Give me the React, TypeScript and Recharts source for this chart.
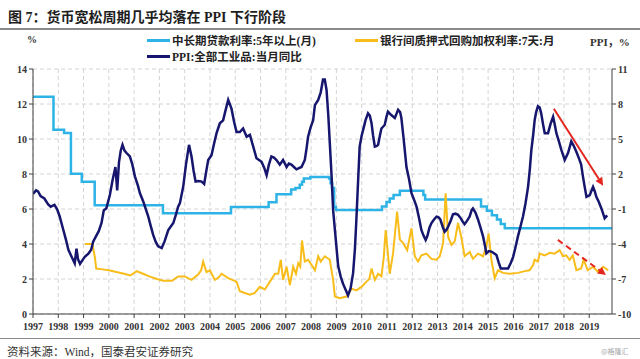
import React from 'react';
import { LineChart, Line, XAxis, YAxis, CartesianGrid, ReferenceLine } from 'recharts';

// [year, value] pairs
const ppiSeries: [number, number][] = [
  [1997.0, 0.3], [1997.12, 0.6], [1997.2, 0.5], [1997.3, 0.1], [1997.45, -0.1], [1997.6, -0.6], [1997.7, -0.8],
  [1997.85, -0.65], [1997.95, -1.0], [1998.05, -1.6], [1998.2, -2.8], [1998.3, -3.6], [1998.4, -4.5], [1998.55, -5.2],
  [1998.65, -5.65], [1998.72, -4.4], [1998.78, -5.3], [1998.86, -5.7], [1998.95, -5.4], [1999.05, -5.1], [1999.2, -4.8],
  [1999.3, -4.5], [1999.38, -3.8], [1999.5, -3.3], [1999.6, -2.9], [1999.71, -2.2], [1999.8, -1.1], [1999.9, -0.95],
  [2000.04, 0.2], [2000.15, 1.5], [2000.26, 2.6], [2000.33, 0.6], [2000.4, 3.0], [2000.47, 4.0], [2000.54, 4.5],
  [2000.62, 4.0], [2000.7, 3.8], [2000.83, 3.5], [2000.93, 2.8], [2001.03, 1.8], [2001.15, 1.0], [2001.23, 0.35],
  [2001.36, -0.35], [2001.46, -1.0], [2001.56, -1.65], [2001.65, -2.4], [2001.75, -3.2], [2001.85, -3.8], [2001.95, -4.2],
  [2002.09, -4.35], [2002.2, -3.8], [2002.35, -2.8], [2002.45, -2.5], [2002.55, -2.2], [2002.65, -1.5], [2002.74, -0.8],
  [2002.81, -0.5], [2002.94, 0.9], [2003.05, 2.8], [2003.17, 4.5], [2003.27, 3.5], [2003.35, 2.3], [2003.43, 1.35],
  [2003.55, 1.4], [2003.67, 1.35], [2003.77, 1.15], [2003.85, 2.2], [2003.93, 3.2], [2004.06, 3.6], [2004.16, 4.6],
  [2004.26, 5.5], [2004.39, 6.35], [2004.52, 6.6], [2004.62, 7.5], [2004.72, 8.35], [2004.85, 7.6], [2004.95, 6.5],
  [2005.05, 5.6], [2005.18, 5.6], [2005.31, 5.9], [2005.45, 5.2], [2005.58, 5.35], [2005.71, 4.35], [2005.84, 3.35],
  [2005.94, 3.2], [2006.04, 3.05], [2006.15, 2.5], [2006.24, 1.9], [2006.33, 2.8], [2006.43, 3.5], [2006.53, 3.4],
  [2006.63, 3.2], [2006.76, 2.8], [2006.89, 3.2], [2007.03, 2.6], [2007.12, 2.9], [2007.22, 2.8], [2007.32, 2.6],
  [2007.42, 2.4], [2007.52, 2.5], [2007.62, 2.6], [2007.75, 3.2], [2007.82, 4.2], [2007.88, 5.2], [2007.98, 6.0],
  [2008.08, 6.6], [2008.15, 7.9], [2008.28, 8.35], [2008.38, 9.0], [2008.47, 10.1], [2008.54, 10.1], [2008.61, 9.2],
  [2008.68, 7.0], [2008.74, 4.6], [2008.81, 1.8], [2008.87, -1.1], [2008.97, -3.5], [2009.07, -5.9], [2009.17, -6.8],
  [2009.26, -7.4], [2009.36, -7.9], [2009.46, -8.4], [2009.56, -7.8], [2009.66, -6.5], [2009.73, -4.5], [2009.79, -1.9],
  [2009.86, 1.5], [2009.92, 4.35], [2010.0, 5.3], [2010.06, 5.8], [2010.15, 6.6], [2010.25, 7.2], [2010.32, 7.0],
  [2010.39, 6.35], [2010.45, 5.3], [2010.52, 4.35], [2010.6, 4.4], [2010.65, 4.5], [2010.72, 5.3], [2010.78, 5.9],
  [2010.91, 6.2], [2010.98, 6.9], [2011.04, 7.35], [2011.17, 7.05], [2011.31, 6.8], [2011.44, 7.5], [2011.52, 7.3],
  [2011.57, 6.8], [2011.65, 5.2], [2011.72, 3.7], [2011.77, 2.6], [2011.87, 1.6], [2011.97, 0.35], [2012.07, -0.2],
  [2012.17, -0.8], [2012.27, -1.8], [2012.36, -2.8], [2012.45, -3.3], [2012.53, -3.65], [2012.6, -3.3], [2012.68, -2.6],
  [2012.76, -2.2], [2012.86, -1.9], [2012.96, -1.65], [2013.03, -1.7], [2013.11, -1.9], [2013.2, -2.5], [2013.28, -2.95],
  [2013.35, -2.8], [2013.42, -2.5], [2013.52, -2.0], [2013.61, -1.45], [2013.71, -1.4], [2013.81, -1.5], [2013.92, -1.8],
  [2014.0, -2.1], [2014.07, -2.3], [2014.17, -2.0], [2014.27, -1.65], [2014.35, -1.1], [2014.4, -0.95], [2014.5, -1.3],
  [2014.6, -1.9], [2014.7, -2.6], [2014.8, -3.35], [2014.88, -4.2], [2014.93, -4.8], [2015.03, -4.6], [2015.13, -4.65],
  [2015.23, -4.8], [2015.33, -4.95], [2015.42, -5.6], [2015.5, -6.1], [2015.65, -6.1], [2015.79, -6.1], [2015.9, -5.6],
  [2015.99, -5.1], [2016.08, -4.3], [2016.18, -3.35], [2016.28, -2.5], [2016.38, -1.65], [2016.48, -0.5], [2016.58, 0.9],
  [2016.65, 2.4], [2016.71, 4.05], [2016.78, 5.3], [2016.84, 6.6], [2016.9, 7.3], [2016.97, 7.8], [2017.04, 7.7],
  [2017.1, 7.2], [2017.17, 6.3], [2017.24, 5.5], [2017.37, 5.5], [2017.47, 6.3], [2017.57, 6.9], [2017.63, 6.3],
  [2017.7, 5.5], [2017.8, 4.8], [2017.9, 4.05], [2018.03, 3.2], [2018.16, 3.8], [2018.29, 4.8], [2018.39, 4.4],
  [2018.49, 3.9], [2018.6, 3.3], [2018.68, 2.8], [2018.75, 1.8], [2018.82, 0.9], [2018.89, 0.05], [2019.02, 0.2],
  [2019.15, 0.9], [2019.22, 0.5], [2019.28, 0.05], [2019.38, -0.4], [2019.48, -0.95], [2019.55, -1.4], [2019.61, -1.8],
  [2019.71, -1.55],
];

// 中长期贷款利率:5年以上 — step changes
const loanSeries: [number, number][] = [
  [1997.0, 12.42], [1997.81, 10.53], [1998.23, 10.35], [1998.5, 8.01], [1998.93, 7.56], [1999.44, 6.21],
  [2002.14, 5.76], [2004.83, 6.12], [2006.32, 6.39], [2006.63, 6.84], [2007.21, 7.11], [2007.38, 7.2],
  [2007.55, 7.38], [2007.64, 7.56], [2007.71, 7.74], [2007.97, 7.83], [2008.71, 7.74], [2008.77, 7.47],
  [2008.83, 7.2], [2008.91, 6.12], [2008.98, 5.94], [2010.8, 6.14], [2010.98, 6.4], [2011.11, 6.6],
  [2011.26, 6.8], [2011.51, 7.05], [2012.44, 6.8], [2012.51, 6.55], [2014.72, 6.15], [2014.95, 5.9],
  [2015.15, 5.65], [2015.35, 5.4], [2015.5, 5.15], [2015.66, 4.9], [2019.9, 4.9],
];

// 银行间质押式回购加权利率:7天
const repoSeries: [number, number][] = [
  [1999.05, 4.0], [1999.35, 4.0], [1999.45, 3.2], [1999.5, 2.6], [1999.75, 2.55], [2000.0, 2.5], [2000.3, 2.4],
  [2000.6, 2.3], [2000.85, 2.2], [2001.1, 2.45], [2001.35, 2.3], [2001.6, 2.15], [2001.9, 2.0], [2002.15, 1.9],
  [2002.5, 1.9], [2002.74, 2.15], [2003.0, 2.15], [2003.27, 1.95], [2003.53, 2.25], [2003.65, 2.5], [2003.73, 3.0],
  [2003.86, 2.4], [2004.0, 2.5], [2004.19, 1.95], [2004.35, 2.1], [2004.46, 2.3], [2004.72, 2.05], [2005.05, 1.85],
  [2005.18, 1.3], [2005.38, 1.2], [2005.58, 1.1], [2005.77, 1.2], [2005.97, 1.55], [2006.17, 1.4], [2006.37, 1.85],
  [2006.57, 2.3], [2006.7, 2.3], [2006.8, 3.1], [2006.89, 1.95], [2007.03, 2.7], [2007.16, 1.65], [2007.29, 2.7],
  [2007.4, 2.3], [2007.49, 2.9], [2007.57, 2.7], [2007.64, 4.2], [2007.75, 3.0], [2007.88, 3.1], [2008.02, 2.8],
  [2008.15, 2.5], [2008.28, 3.3], [2008.38, 3.0], [2008.54, 3.3], [2008.74, 3.1], [2008.87, 1.95], [2008.94, 1.0],
  [2009.13, 0.9], [2009.4, 1.0], [2009.5, 1.2], [2009.6, 1.45], [2009.79, 1.35], [2009.99, 1.55], [2010.19, 1.85],
  [2010.3, 2.0], [2010.39, 2.6], [2010.52, 1.95], [2010.65, 2.3], [2010.78, 2.15], [2010.87, 3.2], [2010.95, 4.8],
  [2011.11, 2.3], [2011.24, 3.45], [2011.4, 5.85], [2011.51, 4.25], [2011.64, 4.05], [2011.8, 3.65], [2011.97, 4.9],
  [2012.1, 3.3], [2012.23, 3.0], [2012.36, 3.35], [2012.56, 3.45], [2012.76, 3.15], [2012.96, 3.1], [2013.09, 3.3],
  [2013.22, 4.05], [2013.32, 6.9], [2013.42, 4.4], [2013.55, 3.95], [2013.68, 4.15], [2013.81, 5.2], [2013.94, 4.4],
  [2014.07, 3.3], [2014.2, 3.45], [2014.27, 3.55], [2014.4, 3.15], [2014.6, 3.45], [2014.8, 3.3], [2014.93, 3.85],
  [2015.02, 4.6], [2015.13, 3.1], [2015.26, 2.05], [2015.39, 2.5], [2015.59, 2.35], [2015.85, 2.3], [2016.18, 2.35],
  [2016.45, 2.45], [2016.64, 2.5], [2016.78, 2.8], [2016.84, 3.1], [2016.97, 3.0], [2017.04, 3.45], [2017.24, 3.35],
  [2017.44, 3.5], [2017.63, 3.45], [2017.83, 3.65], [2017.96, 3.3], [2018.09, 3.35], [2018.22, 3.1], [2018.35, 3.35],
  [2018.49, 2.5], [2018.68, 2.6], [2018.78, 3.1], [2018.94, 2.5], [2019.15, 2.7], [2019.35, 2.4], [2019.55, 2.7],
  [2019.75, 2.5],
];

const years = [1997, 1998, 1999, 2000, 2001, 2002, 2003, 2004, 2005, 2006, 2007, 2008, 2009, 2010, 2011, 2012, 2013, 2014, 2015, 2016, 2017, 2018, 2019];
const leftTicks = [0, 2, 4, 6, 8, 10, 12, 14];
const rightTicks = [-10, -7, -4, -1, 2, 5, 8, 11];

// trend arrows on the PPI (right) scale
const ppiArrow = [{ x: 2017.6, y: 7.6 }, { x: 2019.55, y: 1.0 }];
const repoArrow = [{ x: 2017.76, y: -3.65 }, { x: 2019.66, y: -6.65 }];

const toRows = (s: [number, number][]) => s.map(([t, v]) => ({ t, v }));

const C_LOAN = '#2DB3E6';
const C_REPO = '#F8BD1A';
const C_PPI = '#16166E';
const C_ARROW = '#E4261E';

const serif = "'Liberation Serif', 'Noto Sans CJK SC', serif";
const tickStyle = { fontSize: 10, fontWeight: 'bold' as const, fill: '#333', fontFamily: serif };

const arrowShape = (dashed: boolean) => (props: any) => {
  const { x1, y1, x2, y2 } = props;
  const a = Math.atan2(y2 - y1, x2 - x1);
  const len = 8, w = 4;
  const bx = x2 - len * Math.cos(a), by = y2 - len * Math.sin(a);
  const px = -Math.sin(a) * w, py = Math.cos(a) * w;
  return (
    <g>
      <line x1={x1} y1={y1} x2={bx} y2={by} stroke={C_ARROW} strokeWidth={2} strokeDasharray={dashed ? '6 4' : undefined} />
      <polygon points={`${x2},${y2} ${bx + px},${by + py} ${bx - px},${by - py}`} fill={C_ARROW} />
    </g>
  );
};

const LegendItem: React.FC<{ color: string; label: string; left: number; top: number }> = ({ color, label, left, top }) => (
  <div style={{ position: 'absolute', left, top, display: 'flex', alignItems: 'center', whiteSpace: 'nowrap' }}>
    <span style={{ display: 'inline-block', width: 23, height: 3, background: color, marginRight: 2 }} />
    <span style={{ fontSize: 11.5, fontWeight: 'bold', color: '#222', fontFamily: serif }}>{label}</span>
  </div>
);

export default function App() {
  return (
    <div style={{ position: 'absolute', left: 0, top: 0, width: 640, height: 359, background: '#fff', overflow: 'hidden' }}>
      <div style={{ position: 'absolute', left: 8, top: 6, fontSize: 14, fontWeight: 'bold', color: '#1e1e1e', fontFamily: serif, whiteSpace: 'nowrap' }}>
        图 7：货币宽松周期几乎均落在 PPI 下行阶段
      </div>
      <div style={{ position: 'absolute', left: 0, top: 28, width: 640, height: 2, background: '#8a8a8a' }} />

      <div style={{ position: 'absolute', left: 27, top: 34, fontSize: 10, fontWeight: 'bold', color: '#333', fontFamily: serif }}>%</div>
      <div style={{ position: 'absolute', left: 590, top: 33, fontSize: 11, fontWeight: 'bold', color: '#333', fontFamily: serif }}>PPI，%</div>
      <LegendItem color={C_LOAN} label="中长期贷款利率:5年以上(月)" left={147} top={32} />
      <LegendItem color={C_REPO} label="银行间质押式回购加权利率:7天:月" left={355} top={32} />
      <LegendItem color={C_PPI} label="PPI:全部工业品:当月同比" left={147} top={48} />

      <div style={{ position: 'absolute', left: 0, top: 0 }}>
        <LineChart width={640} height={359} margin={{ top: 69, right: 0, bottom: 0, left: 0 }}>
          <CartesianGrid yAxisId="left" stroke="#d4d4d4" strokeDasharray="4 3" verticalValues={years} />
          <XAxis
            type="number"
            dataKey="t"
            domain={[1997, 2019.9]}
            ticks={years}
            interval={0}
            allowDataOverflow
            height={45}
            tickSize={4}
            tickMargin={5}
            stroke="#404040"
            tick={tickStyle}
            tickFormatter={(v) => String(v)}
          />
          <YAxis yAxisId="left" domain={[0, 14]} ticks={leftTicks} width={33} tickSize={4} tickMargin={2} stroke="#404040" tick={tickStyle} />
          <YAxis yAxisId="right" orientation="right" domain={[-10, 11]} ticks={rightTicks} width={28} tickSize={4} tickMargin={2} stroke="#404040" tick={tickStyle} />
          <Line yAxisId="left" data={toRows(loanSeries)} dataKey="v" type="stepAfter" stroke={C_LOAN} strokeWidth={2.5} dot={false} activeDot={false} isAnimationActive={false} />
          <Line yAxisId="left" data={toRows(repoSeries)} dataKey="v" type="linear" stroke={C_REPO} strokeWidth={2} dot={false} activeDot={false} isAnimationActive={false} />
          <Line yAxisId="right" data={toRows(ppiSeries)} dataKey="v" type="linear" stroke={C_PPI} strokeWidth={2.5} dot={false} activeDot={false} isAnimationActive={false} />
          <ReferenceLine yAxisId="right" segment={ppiArrow} ifOverflow="visible" shape={arrowShape(false)} />
          <ReferenceLine yAxisId="right" segment={repoArrow} ifOverflow="visible" shape={arrowShape(true)} />
        </LineChart>
      </div>

      <div style={{ position: 'absolute', left: 0, top: 338, width: 640, height: 1, background: '#8a8a8a' }} />
      <div style={{ position: 'absolute', left: 7, top: 343, fontSize: 11.5, color: '#333', fontFamily: serif, whiteSpace: 'nowrap' }}>
        资料来源：Wind，国泰君安证券研究
      </div>
      <div style={{ position: 'absolute', left: 601, top: 346, fontSize: 7, color: '#aaa', fontFamily: "'Noto Sans CJK SC', sans-serif" }}>@格隆汇</div>
    </div>
  );
}
